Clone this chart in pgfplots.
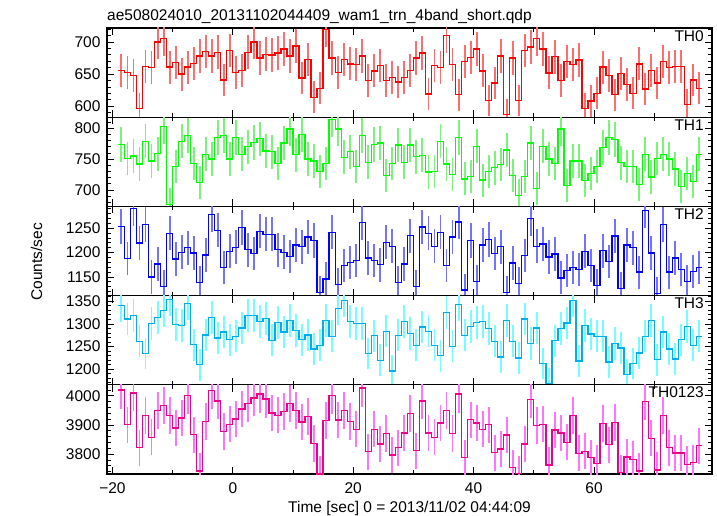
\documentclass[border=0pt]{standalone}
\usepackage{fontspec}
\setmainfont{Liberation Sans}
\usepackage{pgfplots}
\usepackage{pgfplotstable}
\pgfplotsset{compat=1.18}

\pgfplotstableread{
t a b c d e
-18.5 656 774 1254 1341 4020
-17.5 653 751 1188 1311 3901
-16.5 648 755 1290 1319 4010
-15.5 597 742 1220 1262 3823
-14.5 662 779 1258 1235 3932
-13.5 660 747 1150 1301 3858
-12.5 700 759 1177 1315 3951
-11.5 705 803 1131 1330 3966
-10.5 661 677 1240 1354 3932
-9.5 668 738 1187 1299 3890
-8.5 650 779 1201 1297 3924
-7.5 661 788 1210 1345 4001
-6.5 667 743 1199 1254 3867
-5.5 678 712 1138 1210 3743
-4.5 685 758 1195 1276 3913
-3.5 678 750 1278 1315 4018
-2.5 684 785 1246 1269 3983
-1.5 641 788 1170 1282 3878
-0.5 687 750 1203 1265 3903
0.5 653 785 1211 1273 3921
1.5 656 758 1252 1291 3955
2.5 684 770 1206 1319 3975
3.5 700 777 1198 1319 3993
4.5 675 783 1244 1306 4006
5.5 681 763 1238 1312 3989
6.5 680 762 1238 1264 3941
7.5 683 743 1206 1304 3934
8.5 689 776 1201 1282 3946
9.5 678 799 1192 1308 3975
10.5 694 757 1216 1286 3951
11.5 644 790 1212 1265 3911
12.5 673 750 1232 1276 3929
13.5 614 747 1225 1245 3837
14.5 628 730 1118 1253 3732
15.5 719 743 1146 1308 3915
16.5 675 814 1242 1273 4001
17.5 653 799 1134 1334 3917
18.5 673 753 1174 1352 3951
19.5 666 762 1180 1306 3913
20.5 665 738 1184 1301 3886
21.5 678 788 1262 1301 4027
22.5 640 745 1189 1235 3809
23.5 655 774 1184 1274 3886
24.5 663 776 1175 1220 3835
25.5 640 723 1221 1284 3871
26.5 645 743 1213 1196 3798
27.5 638 773 1138 1275 3823
28.5 645 745 1177 1306 3873
29.5 656 773 1235 1279 3940
30.5 675 754 1131 1253 3812
31.5 683 756 1253 1293 3983
32.5 619 729 1240 1284 3873
33.5 663 730 1213 1253 3858
34.5 660 779 1242 1230 3907
35.5 710 742 1173 1326 3949
36.5 665 725 1232 1251 3871
37.5 618 785 1263 1343 4006
38.5 670 718 1123 1275 3789
39.5 676 722 1225 1295 3918
40.5 689 771 1141 1304 3907
41.5 655 716 1216 1306 3886
42.5 609 730 1227 1290 3901
43.5 636 736 1198 1262 3806
44.5 678 741 1212 1227 3818
45.5 587 765 1118 1307 3866
46.5 675 724 1179 1262 3755
47.5 609 691 1136 1225 3734
48.5 687 722 1194 1311 3835
49.5 692 776 1270 1257 3987
50.5 705 702 1213 1291 3898
51.5 689 771 1218 1213 3903
52.5 652 750 1191 1168 3763
53.5 677 743 1197 1263 3883
54.5 640 799 1148 1290 3873
55.5 670 707 1163 1302 3841
56.5 665 747 1170 1352 3932
57.5 672 747 1165 1218 3803
58.5 596 715 1203 1296 3810
59.5 608 727 1174 1278 3789
60.5 620 738 1133 1273 3769
61.5 661 769 1204 1273 3906
62.5 648 785 1182 1216 3833
63.5 618 782 1234 1257 3909
64.5 651 744 1127 1247 3738
65.5 634 738 1216 1188 3791
66.5 620 738 1210 1213 3783
67.5 666 709 1160 1236 3743
68.5 627 758 1287 1273 3981
69.5 656 721 1199 1307 3855
70.5 636 751 1116 1221 3746
71.5 670 758 1258 1282 3932
72.5 660 750 1160 1245 3823
73.5 662 734 1189 1223 3804
74.5 662 706 1165 1265 3804
75.5 603 727 1141 1295 3766
76.5 641 714 1162 1253 3772
77.5 628 758 1170 1273 3829
78.5 628 758 1170 1273 3829
}\datatable

\definecolor{e0}{RGB}{255,110,110}
\definecolor{e1}{RGB}{120,245,120}
\definecolor{e2}{RGB}{115,115,255}
\definecolor{e3}{RGB}{115,255,255}
\definecolor{e4}{RGB}{255,115,255}

\newcommand{\fs}{\fontsize{15.5}{18}\selectfont}

\pgfplotsset{
  panel/.style={
    scale only axis, width=605pt, height=89.2pt,
    xmin=-20.9, xmax=79.6,
    xtick={-20,0,20,40,60}, minor xtick={-10,10,30,50,70},
    xticklabels={},
    tick align=inside, major tick length=7pt, minor tick length=4pt,
    tick style={black, line width=0.9pt},
    axis line style={black, line width=1.1pt},
    ticklabel style={font=\fs},
    yticklabel style={xshift=-3pt},
    xticklabel style={yshift=-5pt},
    /pgf/number format/assume math mode=true,
    /pgf/number format/1000 sep={},
    anchor=north west,
  },
}

\begin{document}
\begin{tikzpicture}
\path[use as bounding box] (0,0) rectangle (717pt,-516pt);

\node[anchor=base west, inner sep=0pt, font=\fs] at (107pt,-21pt)
  {ae508024010\_20131102044409\_wam1\_trn\_4band\_short.qdp};
\node[anchor=base, inner sep=0pt, font=\fs] at (409.5pt,-512pt)
  {Time [sec] 0 = 2013/11/02 04:44:09};
\node[anchor=base, rotate=90, inner sep=0pt, font=\fs] at (42pt,-262pt)
  {Counts/sec};

% TH0
\begin{axis}[panel, at={(107pt,-28pt)}, ymin=583, ymax=721.8,
  ytick={600,650,700}, minor ytick={580,590,...,720}]
\addplot[mark=none, draw opacity=0, forget plot, restrict x to domain=-20:78,
  error bars/.cd, y dir=both, y explicit, error mark=none,
  error bar style={draw=e0, draw opacity=1, line width=1.9pt}]
  table[x=t, y=a, y error expr={sqrt(\thisrow{a})}] {\datatable};
\addplot[red, const plot mark left, mark=none, line width=1.3pt]
  table[x expr=\thisrow{t}-0.5, y=a] {\datatable};
\node[anchor=north east, inner sep=0pt, font=\fs] at ([xshift=-8pt,yshift=-2pt]rel axis cs:1,1) {TH0};
\end{axis}

% TH1
\begin{axis}[panel, at={(107pt,-117.2pt)}, ymin=673.4, ymax=818,
  ytick={700,750,800}, minor ytick={680,690,...,810}]
\addplot[mark=none, draw opacity=0, forget plot, restrict x to domain=-20:78,
  error bars/.cd, y dir=both, y explicit, error mark=none,
  error bar style={draw=e1, draw opacity=1, line width=1.9pt}]
  table[x=t, y=b, y error expr={sqrt(\thisrow{b})}] {\datatable};
\addplot[green, const plot mark left, mark=none, line width=1.3pt]
  table[x expr=\thisrow{t}-0.5, y=b] {\datatable};
\node[anchor=north east, inner sep=0pt, font=\fs] at ([xshift=-8pt,yshift=-2pt]rel axis cs:1,1) {TH1};
\end{axis}

% TH2
\begin{axis}[panel, at={(107pt,-206.4pt)}, ymin=1111.8, ymax=1295,
  ytick={1150,1200,1250}, minor ytick={1120,1130,...,1290}]
\addplot[mark=none, draw opacity=0, forget plot, restrict x to domain=-20:78,
  error bars/.cd, y dir=both, y explicit, error mark=none,
  error bar style={draw=e2, draw opacity=1, line width=1.9pt}]
  table[x=t, y=c, y error expr={sqrt(\thisrow{c})}] {\datatable};
\addplot[blue, const plot mark left, mark=none, line width=1.3pt]
  table[x expr=\thisrow{t}-0.5, y=c] {\datatable};
\node[anchor=north east, inner sep=0pt, font=\fs] at ([xshift=-8pt,yshift=-2pt]rel axis cs:1,1) {TH2};
\end{axis}

% TH3
\begin{axis}[panel, at={(107pt,-295.6pt)}, ymin=1165.8, ymax=1362.6,
  ytick={1200,1250,1300,1350}, minor ytick={1170,1180,...,1360}]
\addplot[mark=none, draw opacity=0, forget plot, restrict x to domain=-20:78,
  error bars/.cd, y dir=both, y explicit, error mark=none,
  error bar style={draw=e3, draw opacity=1, line width=1.9pt}]
  table[x=t, y=d, y error expr={sqrt(\thisrow{d})}] {\datatable};
\addplot[cyan, const plot mark left, mark=none, line width=1.3pt]
  table[x expr=\thisrow{t}-0.5, y=d] {\datatable};
\node[anchor=north east, inner sep=0pt, font=\fs] at ([xshift=-8pt,yshift=-2pt]rel axis cs:1,1) {TH3};
\end{axis}

% TH0123
\begin{axis}[panel, at={(107pt,-384.8pt)}, ymin=3732.4, ymax=4038,
  ytick={3800,3900,4000}, minor ytick={3740,3760,...,4030},
  xticklabels={−20,0,20,40,60}]
\addplot[mark=none, draw opacity=0, forget plot, restrict x to domain=-20:78,
  error bars/.cd, y dir=both, y explicit, error mark=none,
  error bar style={draw=e4, draw opacity=1, line width=1.9pt}]
  table[x=t, y=e, y error expr={sqrt(\thisrow{e})}] {\datatable};
\addplot[magenta, const plot mark left, mark=none, line width=1.3pt]
  table[x expr=\thisrow{t}-0.5, y=e] {\datatable};
\node[anchor=north east, inner sep=0pt, font=\fs] at ([xshift=-8pt,yshift=-2pt]rel axis cs:1,1) {TH0123};
\end{axis}
\end{tikzpicture}
\end{document}
